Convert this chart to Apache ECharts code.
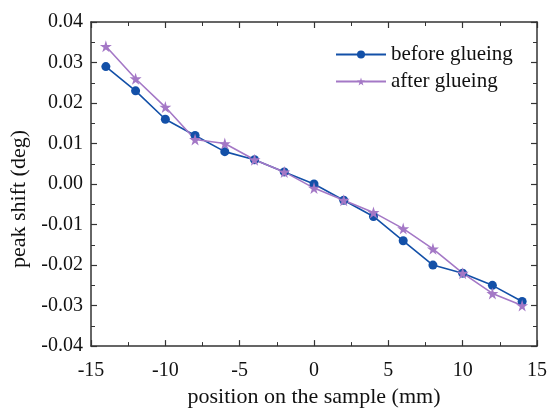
<!DOCTYPE html>
<html>
<head>
<meta charset="utf-8">
<script src="https://cdn.jsdelivr.net/npm/echarts@6/dist/echarts.min.js"></script>
<style>
  html, body { margin: 0; padding: 0; background: #fff; }
  #chart { width: 550px; height: 413px; }
</style>
</head>
<body>
<div id="chart"></div>
<script>
var positions = [-14, -12, -10, -8, -6, -4, -2, 0, 2, 4, 6, 8, 10, 12, 14];
var beforeGlueing = [0.029, 0.023, 0.016, 0.012, 0.008, 0.006, 0.003, 0.000, -0.004, -0.008, -0.014, -0.020, -0.022, -0.025, -0.029];
var afterGlueing = [0.034, 0.026, 0.019, 0.011, 0.010, 0.006, 0.003, -0.001, -0.004, -0.007, -0.011, -0.016, -0.022, -0.027, -0.030];

var starPath = 'path://M50,0 L61,35 L98,35 L68,57 L79,91 L50,70 L21,91 L32,57 L2,35 L39,35 Z';
var font = 'Liberation Serif';

function pairs(ys) {
    return positions.map(function (x, i) { return [x, ys[i]]; });
}

var axisLine = { show: true, onZero: false, lineStyle: { color: '#333', width: 1.5 } };
var tick = { show: true, inside: true, length: 6, lineStyle: { color: '#333', width: 1.2 } };
var minor = { show: true, splitNumber: 2, length: 4, lineStyle: { color: '#333', width: 1 } };

var myChart = echarts.init(document.getElementById('chart'));
myChart.setOption({
    animation: false,
    grid: { left: 91, right: 9, top: 22, bottom: 59 },
    legend: {
        left: 335, top: 44, orient: 'vertical', padding: 0,
        itemWidth: 50, itemHeight: 10, itemGap: 6,
        textStyle: { fontFamily: font, fontSize: 21, color: '#111' },
        data: ['before glueing', 'after glueing']
    },
    xAxis: [{
        type: 'value', min: -15, max: 15, interval: 5,
        name: 'position on the sample (mm)', nameLocation: 'middle', nameGap: 38,
        nameTextStyle: { fontFamily: font, fontSize: 22, color: '#111' },
        axisLine: axisLine, axisTick: tick, minorTick: minor,
        splitLine: { show: false },
        axisLabel: { fontFamily: font, fontSize: 20, color: '#111', margin: 15 }
    }, {
        type: 'value', position: 'top', min: -15, max: 15, interval: 5,
        axisLine: axisLine, axisTick: tick, minorTick: minor,
        splitLine: { show: false }, axisLabel: { show: false }
    }],
    yAxis: [{
        type: 'value', min: -0.04, max: 0.04, interval: 0.01,
        name: 'peak shift (deg)', nameLocation: 'middle', nameGap: 59,
        nameTextStyle: { fontFamily: font, fontSize: 22, color: '#111', padding: [0, 30, 0, 0] },
        axisLine: axisLine, axisTick: tick, minorTick: minor,
        splitLine: { show: false },
        axisLabel: {
            fontFamily: font, fontSize: 20, color: '#111', margin: 8,
            formatter: function (v) { return v.toFixed(2); }
        }
    }, {
        type: 'value', position: 'right', min: -0.04, max: 0.04, interval: 0.01,
        axisLine: axisLine, axisTick: tick, minorTick: minor,
        splitLine: { show: false }, axisLabel: { show: false }
    }],
    series: [{
        name: 'before glueing', type: 'line',
        data: pairs(beforeGlueing),
        symbol: 'circle', symbolSize: 9,
        itemStyle: { color: '#1350a8' },
        lineStyle: { color: '#1350a8', width: 1.6 }
    }, {
        name: 'after glueing', type: 'line',
        data: pairs(afterGlueing),
        symbol: starPath, symbolSize: 12,
        itemStyle: { color: '#a478c6' },
        lineStyle: { color: '#a478c6', width: 1.6 }
    }]
});
</script>
</body>
</html>
